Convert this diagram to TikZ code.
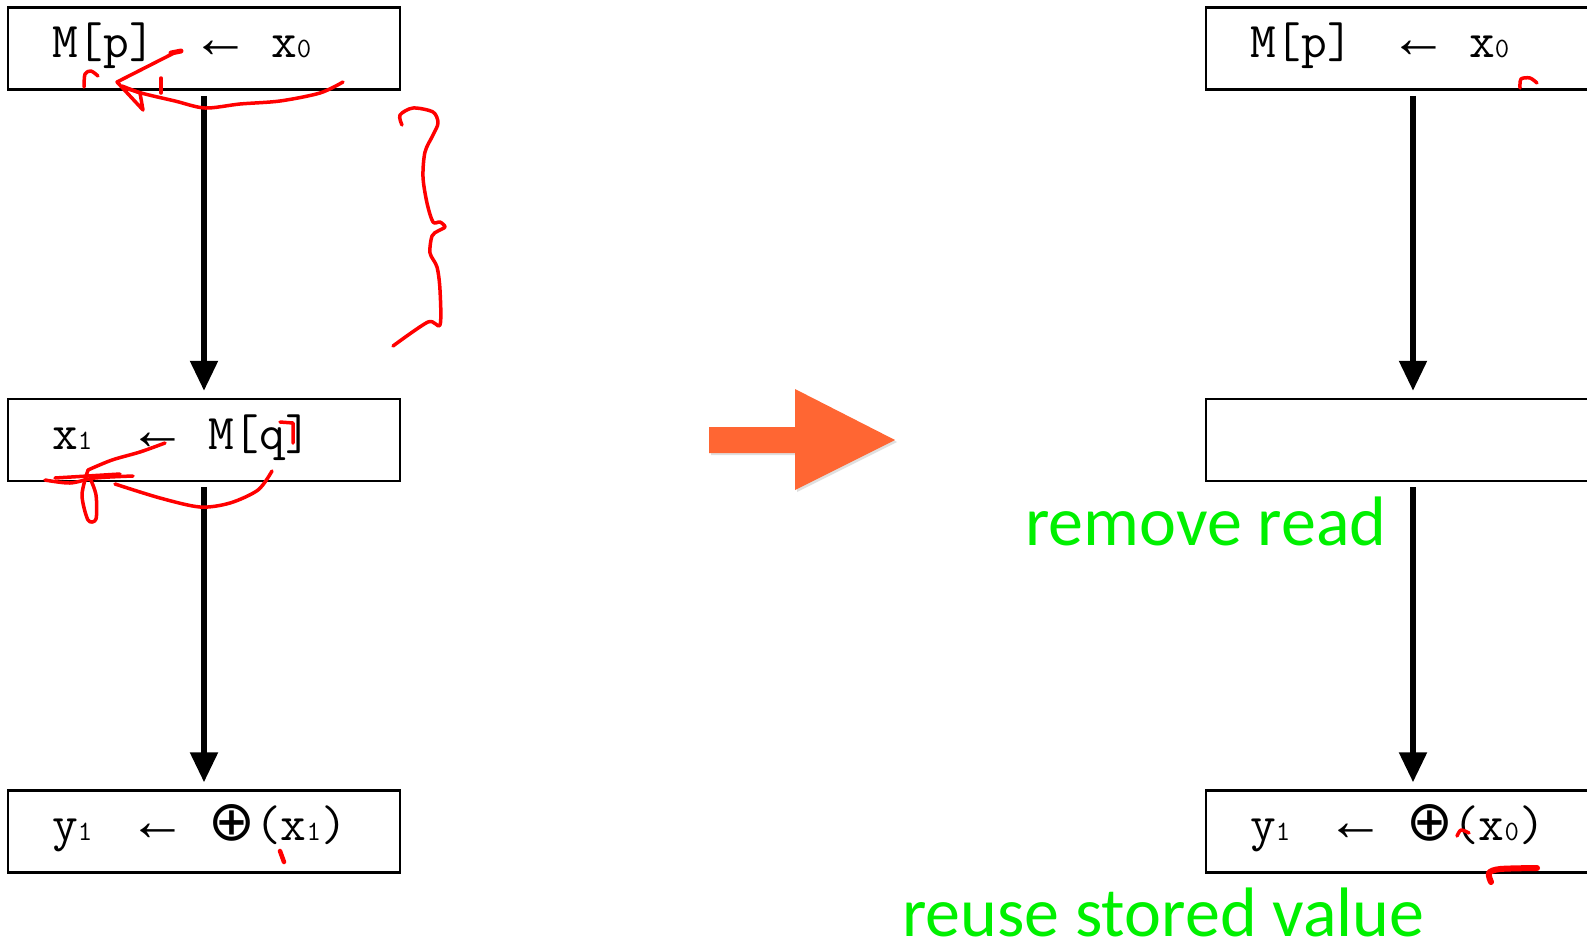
\documentclass[tikz,border=0pt]{standalone}
\usepackage{fontspec}
\usepackage{graphicx}
\newfontfamily\arrowfont{Liberation Mono}
\newfontfamily\notefont{Carlito}
\newfontfamily\dejavu{DejaVu Sans}
\usetikzlibrary{positioning, arrows.meta, shadows}

\definecolor{notegreen}{RGB}{0,240,0}
\definecolor{bigarrow}{RGB}{255,102,51}

% small digits after a register name, assignment arrow, reduction op
\newcommand{\sbs}[1]{{\fontsize{28}{28}\selectfont #1}}
\newcommand{\assign}{\makebox[116pt]{\hspace{16pt}{\arrowfont\fontsize{58}{58}\selectfont ←}}}
\newcommand{\xorop}{{\dejavu\fontsize{56}{56}\selectfont ⊕}}

\tikzset{
  stmt/.style={draw, line width=2.5pt, minimum width=392pt, minimum height=82pt,
    text width=304pt, inner xsep=44pt, inner ysep=0pt, align=left,
    text height=28pt, text depth=10pt,
    font=\ttfamily\fontsize{50}{54}\selectfont},
  wide/.style={minimum width=414pt, text width=326pt},
  flow/.style={line width=5.5pt, -{Triangle[width=27pt,length=30pt]},
    shorten <=5pt, shorten >=7pt},
  note/.style={text=notegreen, anchor=base west, inner sep=0pt, text depth=0pt,
    font=\notefont\fontsize{70}{74}\selectfont},
  scribble/.style={red, line width=3.5pt, line cap=round, line join=round}
}

\begin{document}
\begin{tikzpicture}[x=1pt, y=-1pt, node distance=307pt]
    \useasboundingbox (0,0) rectangle (1587,943);
    \clip (0,0) rectangle (1587,943);

    % original sequence
    \node[stmt] (st) at (204,48.5) {M[p]\assign x\sbs{0}};
    \node[stmt, below=of st] (ld) {x\sbs{1}\assign M[q]};
    \node[stmt, below=of ld] (use) {y\sbs{1}\assign\xorop(x\sbs{1})};
    \draw[flow] (st) -- (ld);
    \draw[flow] (ld) -- (use);

    % forwarded sequence
    \node[stmt, wide, right=803.5pt of st] (st2) {M[p]\assign x\sbs{0}};
    \node[stmt, wide, below=of st2] (ld2) {};
    \node[stmt, wide, below=of ld2] (use2) {y\sbs{1}\assign\xorop(x\sbs{0})};
    \draw[flow] (st2) -- (ld2);
    \draw[flow] (ld2) -- (use2);

    \node[note] (rmread) at (1025,545) {remove read};
    \node[note] (reuse) at (902,936) {reuse stored value};

    % big arrow in the middle
    \fill[bigarrow, drop shadow={opacity=0.25, shadow xshift=2pt, shadow yshift=-2pt}]
        (709,427) -- (795,427) -- (795,389) -- (895,440) -- (795,490)
        -- (795,453) -- (709,453) -- cycle;

    % pen marks
    \draw[scribble] plot[smooth] coordinates {(84,87) (85,74) (91,71) (98,76)};
    \draw[scribble, line width=5pt] (171,53) -- (181,51);
    \draw[scribble] (176,52) -- (117,82) -- (143,110) -- (140,93) -- (122,86);
    \draw[scribble] (161,78) -- (161,93);
    \draw[scribble] plot[smooth] coordinates {(343,82) (320,93) (280,101) (240,104)
        (205,108) (175,101) (145,94) (125,88)};
    \draw[scribble] plot[smooth] coordinates {(402,125) (400,115) (413,108) (433,112)
        (438,123) (433,135) (425,152) (423,177) (427,203) (433,222) (440,222)
        (445,227) (438,231) (432,236) (430,253) (437,267) (440,290) (440,325)
        (428,322) (393,346)};

    \draw[scribble] plot[smooth] coordinates {(165,443) (140,452) (112,460) (88,470)};
    \draw[scribble] plot[smooth] coordinates {(45,480) (70,483) (95,478) (133,476)};
    \draw[scribble] (55,478) -- (120,474);
    \draw[scribble] plot[smooth] coordinates {(88,470) (82,495) (88,520) (96,519)
        (96,495) (90,478)};
    \draw[scribble] plot[smooth] coordinates {(272,471) (258,490) (230,503) (200,507)
        (160,498) (115,484)};
    \draw[scribble] (280,422) -- (293,423) -- (293,443);
    \draw[scribble, line width=4.5pt] (280,851) -- (284,862);

    \draw[scribble] plot[smooth] coordinates {(1520,88) (1521,79) (1530,78) (1537,83)};
    \draw[scribble] plot[smooth] coordinates {(1457,836) (1461,830) (1469,833)};
    \draw[scribble, line width=6pt] plot[smooth] coordinates {(1491,882) (1489,873)
        (1500,869) (1537,868)};
\end{tikzpicture}
\end{document}
